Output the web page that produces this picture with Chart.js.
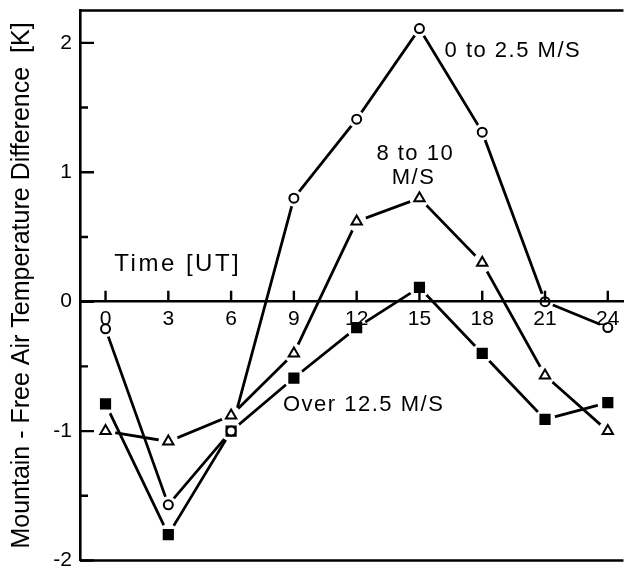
<!DOCTYPE html>
<html>
<head>
<meta charset="utf-8">
<script src="https://cdn.jsdelivr.net/npm/chart.js@4.4.1/dist/chart.umd.min.js"></script>
<style>
  html, body { margin: 0; padding: 0; background: #fff; overflow: hidden; }
  #chart { display: block; }
</style>
</head>
<body>
<canvas id="chart" width="634" height="571"></canvas>
<script>
// Time of day [UT] and the three wind-speed classes
const hours = [0, 3, 6, 9, 12, 15, 18, 21, 24];
const calmWind = [-0.21, -1.57, -1.0, 0.8, 1.41, 2.11, 1.31, 0.0, -0.2];      // 0 to 2.5 M/S
const midWind = [-1.0, -1.08, -0.88, -0.4, 0.62, 0.8, 0.3, -0.57, -1.0];      // 8 to 10 M/S
const strongWind = [-0.79, -1.8, -1.0, -0.59, -0.2, 0.11, -0.4, -0.91, -0.78]; // Over 12.5 M/S

const xTicks = [0, 3, 6, 9, 12, 15, 18, 21, 24];
const yTicks = [-2, -1.5, -1, -0.5, 0, 0.5, 1, 1.5, 2];

const FONT = 'Liberation Sans, Arial, sans-serif';

// text labels placed in data units
const notes = [
    { text: '0 to 2.5 M/S', x: 16.2, y: 1.94, align: 'left', size: 22, spacing: 1.5 },
    { text: '8 to 10', x: 14.8, y: 1.14, align: 'center', size: 22, spacing: 1.5 },
    { text: 'M/S', x: 14.72, y: 0.96, align: 'center', size: 22, spacing: 1.5 },
    { text: 'Time [UT]', x: 0.42, y: 0.29, align: 'left', size: 24, spacing: 2.5 },
    { text: 'Over 12.5 M/S', x: 8.48, y: -0.8, align: 'left', size: 22, spacing: 1.5 },
];

const toPoints = (vals) => hours.map((h, i) => ({ x: h, y: vals[i] }));

// one line, one white halo (gives the gap round each marker) and one marker set per series
function seriesSets(vals, style, radius, fill) {
    const pts = toPoints(vals);
    return [
        { data: pts, borderColor: '#000', borderWidth: 2.8, pointRadius: 0, tension: 0, order: 3 },
        { data: pts, showLine: false, pointStyle: 'circle', pointRadius: radius + 4,
          pointBackgroundColor: '#fff', pointBorderWidth: 0, order: 2 },
        { data: pts, showLine: false, pointStyle: style, pointRadius: radius,
          pointBackgroundColor: fill, pointBorderColor: '#000', pointBorderWidth: 2, order: 1 },
    ];
}

const frameAndTicks = {
    id: 'frameAndTicks',
    afterDraw(chart) {
        const { ctx, chartArea: a, scales: { x, y } } = chart;
        ctx.save();
        ctx.strokeStyle = '#000';
        ctx.lineWidth = 2.4;
        ctx.beginPath();
        ctx.moveTo(a.left, a.top); ctx.lineTo(a.right, a.top);
        ctx.moveTo(a.left, a.bottom); ctx.lineTo(a.right, a.bottom);
        ctx.stroke();

        // inward ticks on the y axis
        ctx.beginPath();
        y.ticks.forEach(t => {
            const py = y.getPixelForValue(t.value);
            const len = Number.isInteger(t.value) ? 14 : 8;
            ctx.moveTo(a.left, py);
            ctx.lineTo(a.left + len, py);
        });
        // upward ticks on the time axis
        const y0 = y.getPixelForValue(0);
        x.ticks.forEach(t => {
            const px = x.getPixelForValue(t.value);
            ctx.moveTo(px, y0);
            ctx.lineTo(px, y0 - 11);
        });
        ctx.stroke();

        ctx.fillStyle = '#000';
        ctx.textBaseline = 'middle';
        notes.forEach(n => {
            ctx.font = n.size + 'px ' + FONT;
            ctx.letterSpacing = n.spacing + 'px';
            ctx.textAlign = n.align;
            ctx.fillText(n.text, x.getPixelForValue(n.x), y.getPixelForValue(n.y));
        });
        ctx.restore();
    }
};

new Chart(document.getElementById('chart'), {
    type: 'line',
    data: {
        datasets: [
            ...seriesSets(calmWind, 'circle', 4.5, '#fff'),
            ...seriesSets(midWind, 'triangle', 6, '#fff'),
            ...seriesSets(strongWind, 'rect', 6.5, '#000'),
        ]
    },
    options: {
        responsive: false,
        animation: false,
        layout: { padding: { top: 10, bottom: 8, left: 0, right: 0 } },
        plugins: { legend: { display: false }, tooltip: { enabled: false } },
        scales: {
            x: {
                type: 'linear',
                position: { y: 0 },
                min: -1.22,
                max: 24.75,
                afterBuildTicks: (s) => { s.ticks = xTicks.map(v => ({ value: v })); },
                grid: { drawOnChartArea: false, drawTicks: false },
                border: { display: true, color: '#000', width: 2.6, z: 1 },
                ticks: { autoSkip: false, maxRotation: 0, padding: 5, color: '#000', z: 1,
                         font: { family: FONT, size: 21 } }
            },
            y: {
                type: 'linear',
                min: -2,
                max: 2.25,
                afterBuildTicks: (s) => { s.ticks = yTicks.map(v => ({ value: v })); },
                afterFit: (s) => { s.width = 80; s.paddingTop = 0; s.paddingBottom = 0; },
                grid: { drawOnChartArea: false, drawTicks: false },
                border: { display: true, color: '#000', width: 2.6 },
                ticks: {
                    autoSkip: false, padding: 8, color: '#000',
                    font: { family: FONT, size: 21 },
                    callback: (v) => Number.isInteger(v) ? String(v) : ''
                },
                title: {
                    display: true,
                    text: 'Mountain - Free Air Temperature Difference  [K]',
                    color: '#000',
                    font: { family: FONT, size: 25 },
                    padding: { top: 7, bottom: 0 }
                }
            }
        }
    },
    plugins: [frameAndTicks]
});
</script>
</body>
</html>
